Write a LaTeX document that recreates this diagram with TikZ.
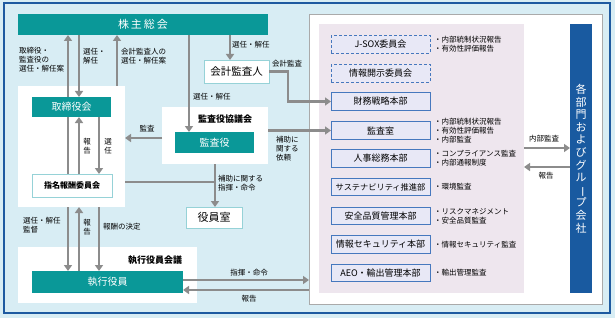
\documentclass[tikz,border=0pt]{standalone}
\usepackage{fontspec}
\setmainfont{Noto Sans CJK JP}
\usetikzlibrary{arrows.meta}
\definecolor{bgblue}{RGB}{216,237,244}
\definecolor{framebl}{RGB}{30,90,160}
\definecolor{orgteal}{RGB}{10,152,152}
\definecolor{lightteal}{RGB}{150,210,215}
\definecolor{groupbl}{RGB}{25,90,160}
\definecolor{pinkpane}{RGB}{238,230,238}
\definecolor{deptfill}{RGB}{232,232,246}
\definecolor{deptblue}{RGB}{70,120,190}
\definecolor{arrowgray}{RGB}{140,140,140}
\definecolor{panelgray}{RGB}{170,170,170}

\begin{document}
\begin{tikzpicture}[
  x=1pt,y=-1pt,
  panel/.style={fill=white,inner sep=0pt,outer sep=0pt},
  tealbox/.style={fill=orgteal,text=white,inner sep=0pt,outer sep=0pt,font=\fontsize{10}{12}\selectfont},
  whitebox/.style={draw=lightteal,fill=white,line width=0.8pt,inner sep=0pt,outer sep=0pt},
  dept/.style={draw=deptblue,fill=deptfill,line width=0.9pt,minimum width=99pt,minimum height=17.5pt,inner sep=0pt,outer sep=0pt,font=\fontsize{9}{11}\selectfont},
  committee/.style={dept,dash pattern=on 3pt off 2pt},
  note/.style={anchor=west,align=left,inner sep=0pt,font=\fontsize{7.5}{8.7}\selectfont},
  lbl/.style={inner sep=0pt,align=left,font=\fontsize{7.5}{9}\selectfont},
  arr/.style={-{Triangle[length=6pt,width=8pt]},line width=2.5pt,draw=arrowgray},
  link/.style={line width=2.5pt,draw=arrowgray}
]
  \fill[bgblue] (0,0) rectangle (615,318);
  \useasboundingbox (0,0) rectangle (615,318);
  \draw[framebl,line width=1.2pt] (4,3) rectangle (610,313);

  \coordinate (colA) at (68,0);
  \coordinate (colB) at (79,0);
  \coordinate (colC) at (99,0);
  \coordinate (colD) at (117,0);
  \coordinate (colE) at (189,0);
  \coordinate (colF) at (230,0);
  \coordinate (colG) at (215,0);
  \coordinate (rowA) at (0,138);
  \coordinate (rowB) at (0,182);
  \coordinate (rowC) at (0,280);
  \coordinate (rowD) at (0,290);
  \coordinate (rowE) at (0,148);
  \coordinate (rowF) at (0,167);

  \node[panel,draw=panelgray,line width=0.6pt,minimum width=293pt,minimum height=290pt] (rightpanel) at (455.5,159) {};
  \node[inner sep=0pt,outer sep=0pt,fill=pinkpane,minimum width=205pt,minimum height=269pt] (pinkpanel) at (421.5,158.5) {};
  \node[inner sep=0pt,outer sep=0pt,fill=groupbl,minimum width=22pt,minimum height=269pt,text=white,align=center,font=\fontsize{11}{12.6}\selectfont] (group) at (581,158.5)
    {各\\部\\門\\お\\よ\\び\\グ\\ル\\\rotatebox[origin=c]{-90}{ー}\\プ\\会\\社};

  \node[tealbox,minimum width=250pt,minimum height=21pt,font=\fontsize{11}{13}\selectfont] (sh) at (143,24.5) {株\hspace{2pt}主\hspace{2pt}総\hspace{2pt}会};
  \node[panel,minimum width=107pt,minimum height=121pt] (boardpanel) at (71.5,146.5) {};
  \node[tealbox,minimum width=79pt,minimum height=20pt] (board) at (71.5,107) {取締役会};
  \node[whitebox,minimum width=80pt,minimum height=23pt,font=\bfseries\fontsize{8}{10}\selectfont] (nomcom) at (72,185.5) {指名報酬委員会};
  \node[panel,minimum width=106pt,minimum height=57pt] (auditpanel) at (215,135.5) {};
  \node[font=\bfseries\fontsize{9}{11}\selectfont,inner sep=0pt] (auditpanel-title) at (225,119) {監査役協議会};
  \node[tealbox,minimum width=79pt,minimum height=21pt] (auditor) at (214.5,142.5) {監査役};
  \node[whitebox,minimum width=65pt,minimum height=23pt,font=\fontsize{10.5}{12}\selectfont] (accountant) at (236.5,71.5) {会計監査人};
  \node[whitebox,minimum width=56pt,minimum height=21pt,font=\fontsize{11}{13}\selectfont] (office) at (214,217.5) {役員室};
  \node[panel,minimum width=179pt,minimum height=56pt] (execpanel) at (107.5,275) {};
  \node[font=\bfseries\fontsize{9}{11}\selectfont,inner sep=0pt,anchor=west] (execpanel-title) at (128,260) {執行役員会議};
  \node[tealbox,minimum width=151pt,minimum height=22pt] (exec) at (107.5,282) {執行役員};

  \node[committee] (jsox) at (380.5,44.5) {J-SOX委員会};
  \node[committee] (disclosure) at (380.5,73.5) {情報開示委員会};
  \node[dept] (finance) at (380.5,101.5) {財務戦略本部};
  \node[dept] (auditroom) at (380.5,130.5) {監査室};
  \node[dept] (hr) at (380.5,158.5) {人事総務本部};
  \node[dept,font=\fontsize{8.2}{10}\selectfont] (sustain) at (380.5,187) {サステナビリティ推進部};
  \node[dept] (quality) at (380.5,216) {安全品質管理本部};
  \node[dept] (security) at (380.5,244.5) {情報セキュリティ本部};
  \node[dept] (aeo) at (380.5,273) {AEO・輸出管理本部};

  \node[note] (note-jsox) at ([xshift=4pt]jsox.east) {・内部統制状況報告\\・有効性評価報告};
  \node[note] (note-auditroom) at ([xshift=4pt]auditroom.east) {・内部統制状況報告\\・有効性評価報告\\・内部監査};
  \node[note] (note-hr) at ([xshift=4pt]hr.east) {・コンプライアンス監査\\・内部通報制度};
  \node[note] (note-sustain) at ([xshift=4pt]sustain.east) {・環境監査};
  \node[note] (note-quality) at ([xshift=4pt]quality.east) {・リスクマネジメント\\・安全品質監査};
  \node[note] (note-security) at ([xshift=4pt]security.east) {・情報セキュリティ監査};
  \node[note] (note-aeo) at ([xshift=4pt]aeo.east) {・輸出管理監査};

  \draw[arr] (colA |- board.north) -- (colA |- sh.south);
  \draw[arr] (colB |- sh.south) -- (colB |- board.north);
  \draw[arr] (colD |- boardpanel.north) -- (colD |- sh.south);
  \draw[arr] (colE |- sh.south) -- (colE |- auditor.north);
  \draw[arr] (colF |- sh.south) -- (colF |- accountant.north);
  \draw[arr] (accountant.east) -- ++(19,0) |- (finance.west);
  \draw[arr] (auditpanel.east |- auditroom.west) -- (auditroom.west);
  \draw[arr] (rowA -| auditpanel.west) -- (rowA -| boardpanel.east);
  \draw[arr] (colG |- auditpanel.south) -- (colG |- office.north);
  \draw[link] (rowB -| boardpanel.east) -- (rowB -| colG);
  \draw[link] (colA |- board.south) -- (colA |- nomcom.north);
  \draw[arr] (colB |- nomcom.north) -- (colB |- board.south);
  \draw[arr] (colC |- board.south) -- (colC |- nomcom.north);
  \draw[arr] (colA |- boardpanel.south) -- (colA |- exec.north);
  \draw[arr] (colB |- exec.north) -- (colB |- boardpanel.south);
  \draw[arr] (colC |- boardpanel.south) -- (colC |- exec.north);
  \draw[arr] (rowC -| exec.east) -- (rowC -| rightpanel.west);
  \draw[arr] (rowD -| rightpanel.west) -- (rowD -| exec.east);
  \draw[arr] (rowE -| pinkpanel.east) -- (rowE -| group.west);
  \draw[arr] (rowF -| group.west) -- (rowF -| pinkpanel.east);

  \node[lbl,anchor=north west] (lbl-proposal) at (19,47) {取締役・\\監査役の\\選任・解任案};
  \node[lbl,anchor=north west] (lbl-elect) at (83,48) {選任・\\解任};
  \node[lbl,anchor=north west] (lbl-accproposal) at (121,48) {会計監査人の\\選任・解任案};
  \node[lbl,anchor=west] (lbl-accelect) at (232,45) {選任・解任};
  \node[lbl,anchor=west] (lbl-accaudit) at (272,64) {会計監査};
  \node[lbl,anchor=west] (lbl-audelect) at (193,97) {選任・解任};
  \node[lbl] (lbl-audit) at (147,129) {監査};
  \node[lbl,align=center] (lbl-nomreport) at (87,146) {報\\告};
  \node[lbl,align=center] (lbl-nomelect) at (108,146) {選\\任};
  \node[lbl,anchor=north west] (lbl-request) at (276,136) {補助に\\関する\\依頼};
  \node[lbl,anchor=north west] (lbl-command) at (218,175) {補助に関する\\指揮・命令};
  \node[lbl,anchor=north west] (lbl-supervise) at (23,217) {選任・解任\\監督};
  \node[lbl,align=center] (lbl-execreport) at (87,227) {報\\告};
  \node[lbl,anchor=west] (lbl-pay) at (103,227) {報酬の決定};
  \node[lbl] (lbl-order) at (249,273) {指揮・命令};
  \node[lbl] (lbl-report) at (249,299) {報告};
  \node[lbl] (lbl-internal) at (544,139) {内部監査};
  \node[lbl] (lbl-groupreport) at (546,176) {報告};
\end{tikzpicture}
\end{document}
